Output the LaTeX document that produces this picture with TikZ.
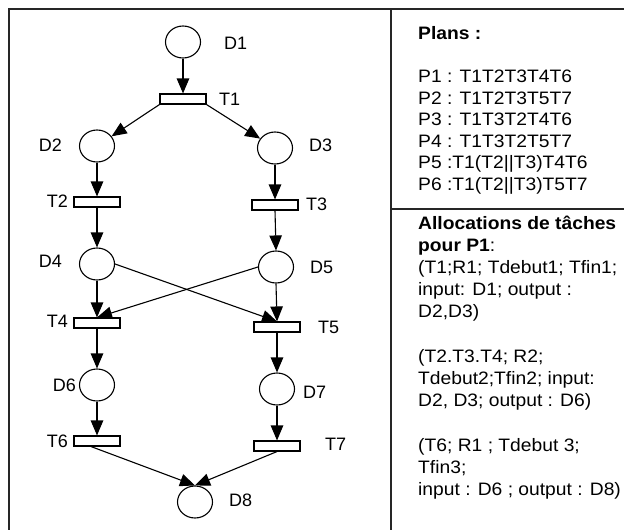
\documentclass[tikz,border=0pt]{standalone}
\usepackage{fontspec}
\setmainfont{Liberation Sans}
\newfontfamily\panelfont{Liberation Sans}[FakeStretch=1.07]
\usetikzlibrary{arrows.meta,shapes.geometric}

\begin{document}
\begin{tikzpicture}[x=1pt,y=-1pt,
  place/.style={draw,ellipse,minimum width=35pt,minimum height=32pt,inner sep=0pt,line width=1.1pt},
  trans/.style={draw,rectangle,minimum width=46pt,minimum height=10pt,inner sep=0pt,line width=1.1pt},
  lbl/.style={inner sep=0pt,font=\fontsize{18}{21.5}\selectfont},
  arc/.style={line width=1.1pt,-{Triangle[length=15pt,width=12.5pt]}},
  frame/.style={line width=1.8pt,draw=black!85},
  panel/.style={inner sep=0pt,anchor=north west,align=left}
]
\clip (0,0) rectangle (624,530);

% frame and panel dividers
\draw[frame] (9,530) -- (9,9) -- (624,9);
\draw[frame] (391,9) -- (391,530);
\draw[frame] (391,209) -- (624,209);

% places
\node[place] (D1) at (183,42) {};
\node[place] (D2) at (97,146) {};
\node[place] (D3) at (275,148) {};
\node[place] (D4) at (97,264) {};
\node[place] (D5) at (276,267) {};
\node[place] (D6) at (97,385) {};
\node[place] (D7) at (277,389) {};
\node[place] (D8) at (195,502) {};

% transitions
\node[trans] (T1) at (183,99) {};
\node[trans] (T2) at (97,202) {};
\node[trans] (T3) at (275,205) {};
\node[trans] (T4) at (97,323) {};
\node[trans] (T5) at (277,327) {};
\node[trans] (T6) at (97,441) {};
\node[trans] (T7) at (277,446) {};

% labels
\node[lbl,anchor=west] (lD1) at (224,43) {D1};
\node[lbl,anchor=west] (lT1) at (219,99) {T1};
\node[lbl,anchor=east] (lD2) at (62,145) {D2};
\node[lbl,anchor=west] (lD3) at (309,145) {D3};
\node[lbl,anchor=east] (lT2) at (68,201) {T2};
\node[lbl,anchor=west] (lT3) at (306,204) {T3};
\node[lbl,anchor=east] (lD4) at (62,261) {D4};
\node[lbl,anchor=west] (lD5) at (310,267) {D5};
\node[lbl,anchor=east] (lT4) at (68,321) {T4};
\node[lbl,anchor=west] (lT5) at (318,327) {T5};
\node[lbl,anchor=east] (lD6) at (76,385) {D6};
\node[lbl,anchor=west] (lD7) at (303,392) {D7};
\node[lbl,anchor=east] (lT6) at (68,441) {T6};
\node[lbl,anchor=west] (lT7) at (325,444) {T7};
\node[lbl,anchor=west] (lD8) at (229,500) {D8};

% arcs
\draw[arc] (D1.south) -- (T1.north);
\draw[arc] (T1.south west) -- (D2);
\draw[arc] (T1.south east) -- (D3);
\draw[arc] (D2.south) -- (T2.north);
\draw[arc] (D3.south) -- (T3.north);
\draw[arc] (T2.south) -- (D4.north);
\draw[arc] (T3.south) -- (D5.north);
\draw[arc] (D4.south) -- (T4.north);
\draw[arc] (D5.south) -- (T5.north);
\draw[arc] (D4.east) -- (T5.north);
\draw[arc] (D5.west) -- (T4.north);
\draw[arc] (T4.south) -- (D6.north);
\draw[arc] (T5.south) -- (D7.north);
\draw[arc] (D6.south) -- (T6.north);
\draw[arc] (D7.south) -- (T7.north);
\draw[arc] ([xshift=-6pt]T6.south) -- (D8.north);
\draw[arc] (T7.south) -- (D8.north);

% plans panel
\node[panel,font=\panelfont\fontsize{18}{21.5}\selectfont] (plans) at (418,26.5) {%
\textbf{Plans :}\\[21.5pt]
P1 : T1T2T3T4T6\\
P2 : T1T2T3T5T7\\
P3 : T1T3T2T4T6\\
P4 : T1T3T2T5T7\\
P5 :T1(T2||T3)T4T6\\
P6 :T1(T2||T3)T5T7};

% task allocation panel
\node[panel,font=\panelfont\fontsize{18}{22.2}\selectfont] (alloc) at (418,215.5) {%
\textbf{Allocations de tâches}\\
\textbf{pour P1}:\\
(T1;R1; Tdebut1; Tfin1;\\
input: D1; output :\\
D2,D3)\\[22.2pt]
(T2.T3.T4; R2;\\
Tdebut2;Tfin2; input:\\
D2, D3; output : D6)\\[22.2pt]
(T6; R1 ; Tdebut 3;\\
Tfin3;\\
input : D6 ; output : D8)};
\end{tikzpicture}
\end{document}
